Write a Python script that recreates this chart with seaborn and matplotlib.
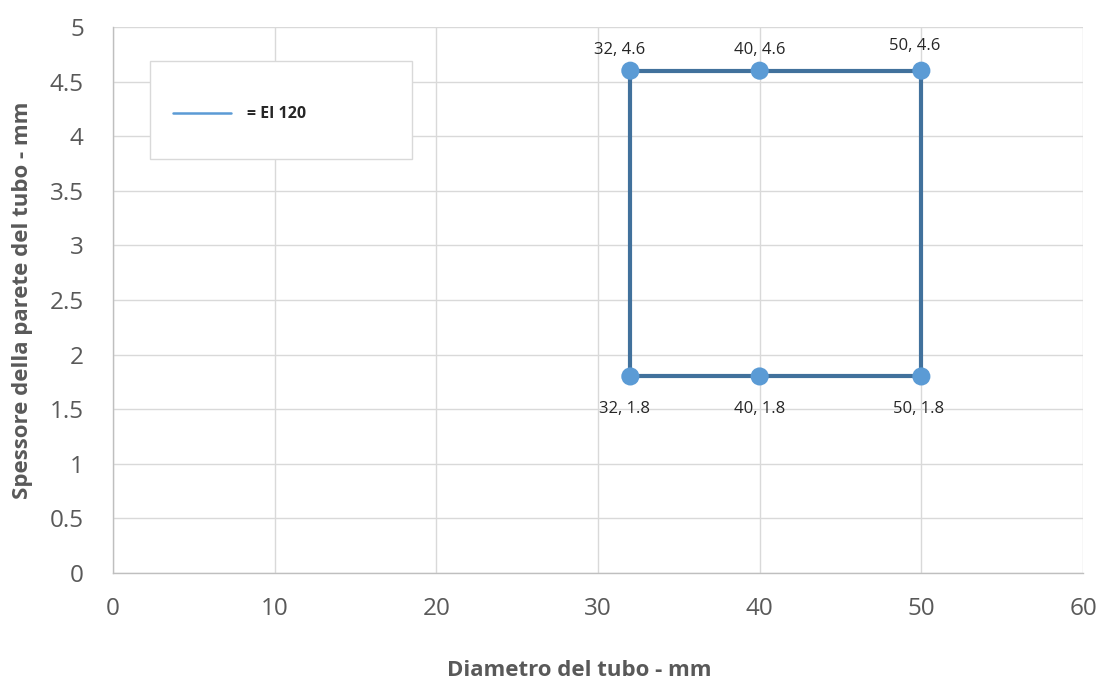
import pandas as pd
import seaborn as sns
import matplotlib.pyplot as plt
from matplotlib.patches import Rectangle

# dati
diametro_linea = [32, 40, 50, 50, 40, 32, 32]
spessore_linea = [4.6, 4.6, 4.6, 1.8, 1.8, 1.8, 4.6]
diametro_punti = [32, 40, 50, 32, 40, 50]
spessore_punti = [4.6, 4.6, 4.6, 1.8, 1.8, 1.8]
etichetta_serie = '= EI 120'

x_ticks = [0, 10, 20, 30, 40, 50, 60]
y_ticks = [0, 0.5, 1, 1.5, 2, 2.5, 3, 3.5, 4, 4.5, 5]

df_linea = pd.DataFrame({'d': diametro_linea, 's': spessore_linea})
df_punti = pd.DataFrame({'d': diametro_punti, 's': spessore_punti})

sns.set_style('white')
plt.rcParams['font.family'] = ['Open Sans', 'DejaVu Sans']

fig = plt.figure(figsize=(11.02, 6.82), dpi=100)
ax = fig.add_axes([0.1025, 0.1598, 0.8803, 0.8006])

sns.lineplot(data=df_linea, x='d', y='s', sort=False, estimator=None,
             color='#41719c', linewidth=3, ax=ax, zorder=3, legend=False)
sns.scatterplot(data=df_punti, x='d', y='s', color='#5b9bd5', s=170,
                edgecolor='none', ax=ax, zorder=4, legend=False)

# etichette dei punti
for d, s in zip(diametro_punti, spessore_punti):
    testo = f'{d:g}, {s:g}'
    if s > 3:
        dy = 12 if d == 50 else 9
        ax.annotate(testo, (d, s), xytext=(-8 if d == 32 else (-5 if d == 50 else 0), dy),
                    textcoords='offset points', ha='center', va='bottom',
                    fontsize=12, color='#262626')
    else:
        ax.annotate(testo, (d, s), xytext=(-4 if d == 32 else (-2 if d == 50 else 0), -18),
                    textcoords='offset points', ha='center', va='top',
                    fontsize=12, color='#262626')

ax.set_xlim(0, 60)
ax.set_ylim(0, 5)
ax.set_xticks(x_ticks)
ax.set_yticks(y_ticks)
ax.set_yticklabels([f'{v:g}' for v in y_ticks])
ax.grid(True, color='#d9d9d9', linewidth=1)
ax.set_axisbelow(True)
ax.tick_params(axis='both', labelsize=17.5, labelcolor='#595959', length=0)
ax.tick_params(axis='x', pad=17)
ax.tick_params(axis='y', pad=21)

for lato in ['top', 'right']:
    ax.spines[lato].set_visible(False)
for lato in ['left', 'bottom']:
    ax.spines[lato].set_color('#bfbfbf')
    ax.spines[lato].set_linewidth(1)

ax.set_xlabel('Diametro del tubo - mm', fontsize=16, fontweight='bold',
              color='#595959', va='center')
ax.xaxis.set_label_coords(0.481, -0.178)
ax.set_ylabel('Spessore della parete del tubo - mm', fontsize=16,
              fontweight='bold', color='#595959', labelpad=12)

# riquadro della legenda
ax.add_patch(Rectangle((0.038, 0.758), 0.27, 0.18, transform=ax.transAxes,
                       facecolor='white', edgecolor='#d9d9d9', linewidth=1,
                       zorder=4.5))
linea_leg = plt.Line2D([], [], color='#5b9bd5', linewidth=1.8)
leg = ax.legend([linea_leg], [etichetta_serie], loc='center left',
                bbox_to_anchor=(0.062, 0.84), frameon=False,
                borderpad=0, borderaxespad=0, handlelength=3.6,
                handletextpad=1.0, prop={'size': 11.5, 'weight': 'bold'})
leg.set_zorder(5)

fig.savefig('out.png', dpi=100)
